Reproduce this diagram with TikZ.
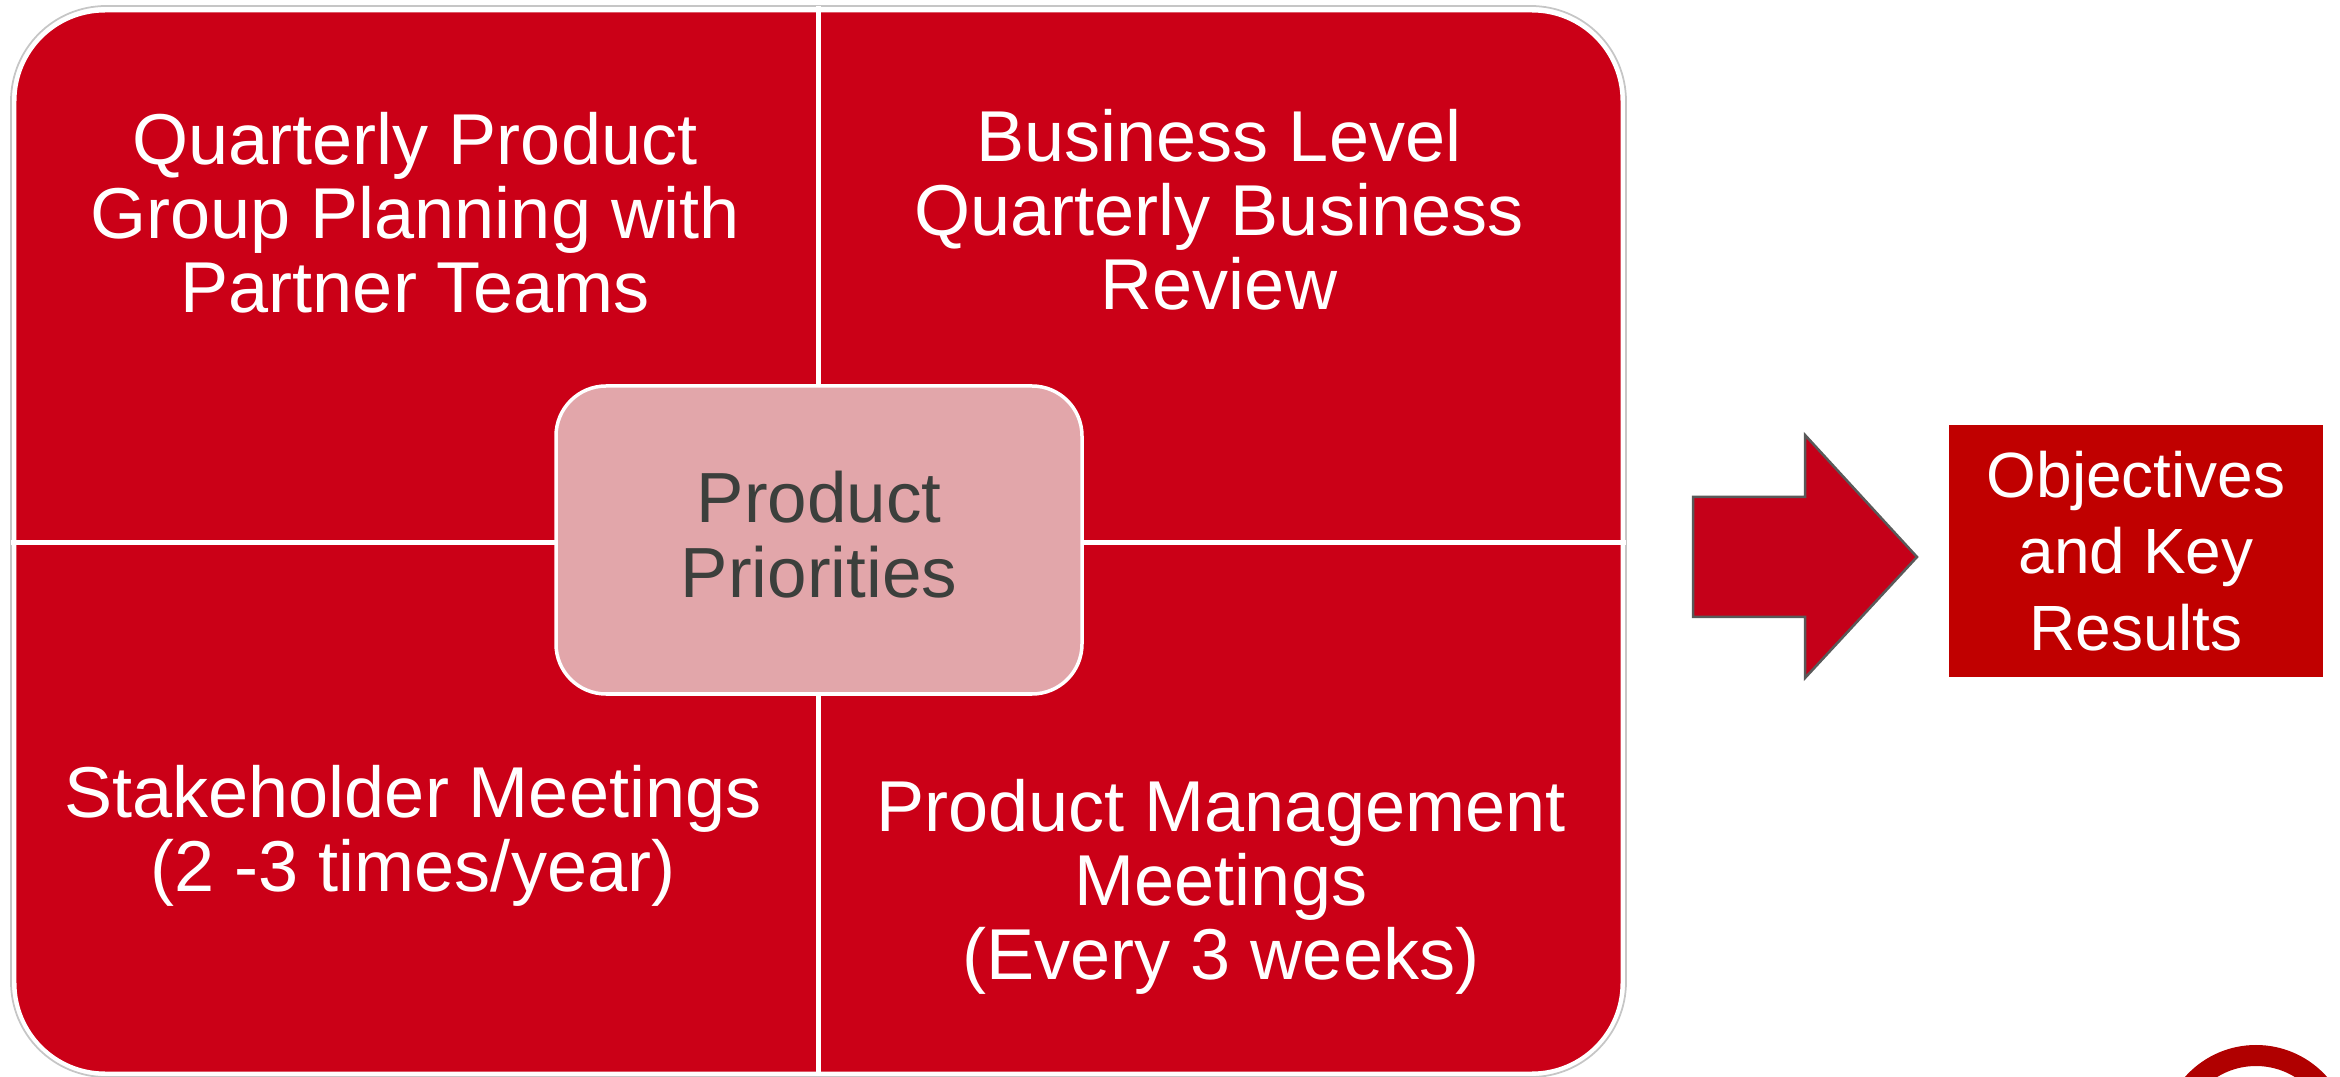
\documentclass[tikz,border=0pt]{standalone}
\usepackage{fontspec}
\setmainfont{Liberation Sans}
\definecolor{quadred}{HTML}{CB0017}
\definecolor{okrred}{HTML}{C00000}
\definecolor{arrowred}{HTML}{C50019}
\definecolor{ringred}{HTML}{B00000}
\definecolor{prioritypink}{HTML}{E2A6AA}
\definecolor{prioritytext}{HTML}{3C3F3C}
\tikzset{
  quadtext/.style={text=white, align=center, font=\fontsize{20.5}{21}\selectfont},
  divider/.style={white, line width=0.05cm}
}
\begin{document}
\begin{tikzpicture}
  \useasboundingbox (0,0) rectangle (23.40,10.76);
  \clip (0,0) rectangle (23.40,10.76);
  % quadrants
  \draw[gray!45, line width=0.5pt, rounded corners=0.95cm] (0.11,-0.01) rectangle (16.26,10.70);
  \draw[quadred, fill=quadred, rounded corners=0.9cm] (0.15,0.03) rectangle (16.22,10.65);
  \draw[white, line width=0.03cm, rounded corners=0.9cm] (0.15,0.03) rectangle (16.22,10.65);
  \coordinate (top) at (8.18,10.70);
  \coordinate (bottom) at (8.18,0);
  \coordinate (left) at (0.11,5.33);
  \coordinate (right) at (16.26,5.33);
  \draw[divider] (top) -- (bottom);
  \draw[divider] (left) -- (right);
  \node[quadtext] (planning) at (4.15,8.63) {Quarterly Product\\Group Planning with\\Partner Teams};
  \node[quadtext] (review) at (12.19,8.66) {Business Level\\Quarterly Business\\Review};
  \node[quadtext] (stakeholder) at (4.13,2.40) {Stakeholder Meetings\\(2 -3 times/year)};
  \node[quadtext] (pm) at (12.21,1.89) {Product Management\\Meetings\\(Every 3 weeks)};
  % centre
  \node[draw=white, line width=0.035cm, fill=prioritypink, rounded corners=0.5cm,
    minimum width=5.26cm, minimum height=3.08cm] (priorities) at (8.19,5.36) {};
  \node[text=prioritytext, align=center, font=\fontsize{20.2}{21.3}\selectfont]
    (prioritylabel) at (8.19,5.41) {Product\\Priorities};
  % arrow and result
  \draw[fill=arrowred, draw=black!65, line width=0.025cm]
    (16.93,5.79) -- (18.05,5.79) -- (18.05,6.41) -- (19.17,5.19) -- (18.05,3.98)
    -- (18.05,4.59) -- (16.93,4.59) -- cycle;
  \node[fill=okrred, minimum width=3.74cm, minimum height=2.52cm, text=white, align=center,
    font=\fontsize{18.2}{21.8}\selectfont] (okr) at (21.36,5.25) {Objectives\\and Key\\Results};
  % logo ring
  \draw[ringred, line width=0.21cm] (22.56,-0.64) circle (0.845);
\end{tikzpicture}
\end{document}
